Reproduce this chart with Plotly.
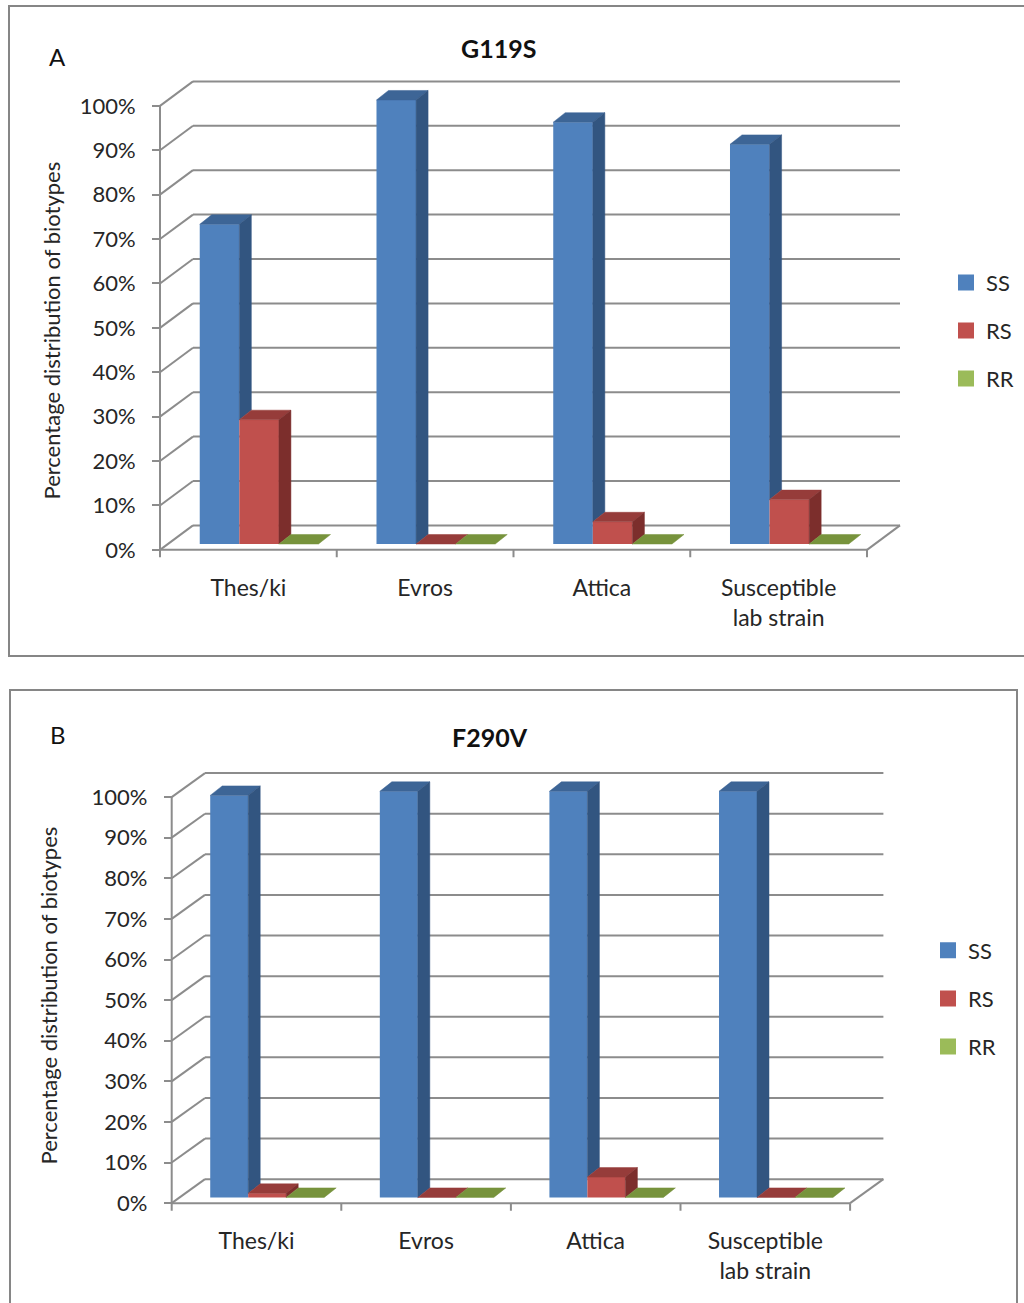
import plotly.graph_objects as go

# ---- data -------------------------------------------------------------
categories = ["Thes/ki", "Evros", "Attica", "Susceptible<br>lab strain"]
series = ["SS", "RS", "RR"]

g119s_ss = [72, 100, 95, 90]
g119s_rs = [28, 0, 5, 10]
g119s_rr = [0, 0, 0, 0]

f290v_ss = [99, 100, 100, 100]
f290v_rs = [1, 0, 5, 0]
f290v_rr = [0, 0, 0, 0]

y_ticks = [0, 10, 20, 30, 40, 50, 60, 70, 80, 90, 100]
y_tick_labels = [f"{v}%" for v in y_ticks]

# ---- styling ----------------------------------------------------------
W, H = 1024, 1303
FONT = "Lato"
TEXT = "#262626"
GRID = "#8c8c8c"
BORDER = "#868686"

front_color = {"SS": "#4F81BD", "RS": "#C0504D", "RR": "#9BBB59"}
top_color = {"SS": "#3D6596", "RS": "#963C3A", "RR": "#77933C"}
side_color = {"SS": "#325580", "RS": "#7C2E2C", "RR": "#5F7530"}

BAR_W = 0.224        # bar width in category units
BAR_START = 0.18     # first bar offset inside a category
ROW_DEPTH = 0.24     # bar row position between front edge and back wall
BAR_DX_PX, BAR_DY_PX = 12.0, 9.5   # oblique depth of one bar (pixels)

panels = [
    dict(label="A", title="G119S", values=[g119s_ss, g119s_rs, g119s_rr],
         origin=(160.0, 550.7), cat_px=176.75, unit_px=4.447, wall_px=(33.0, 24.5),
         box=(150, 908, 74, 562), xa="x", ya="y", legend="legend",
         frame=(9, 6, 1040, 657), title_xy=(498, 48), label_xy=(57, 57),
         ytitle_xy=(51, 331), legend_xy=(946, 262)),
    dict(label="B", title="F290V", values=[f290v_ss, f290v_rs, f290v_rr],
         origin=(171.7, 1205.0), cat_px=169.6, unit_px=4.067, wall_px=(33.3, 24.0),
         box=(160, 888, 766, 1216), xa="x2", ya="y2", legend="legend2",
         frame=(10, 691, 1017, 1320), title_xy=(490, 738), label_xy=(58, 736),
         ytitle_xy=(48, 997), legend_xy=(928, 931)),
]

fig = go.Figure()
shapes, annotations = [], []
layout = {}


def px_x(p):
    return p / W


def px_y(p):
    return 1 - p / H


for n, pn in enumerate(panels):
    ox, oy = pn["origin"]
    cpx, upx = pn["cat_px"], pn["unit_px"]
    dxd = pn["wall_px"][0] / cpx          # wall depth, x (category units)
    dyd = pn["wall_px"][1] / upx          # wall depth, y (percent units)
    bdx = BAR_DX_PX / cpx
    bdy = BAR_DY_PX / upx
    left, right, top, bottom = pn["box"]
    xa, ya = pn["xa"], pn["ya"]
    xname = "xaxis" if xa == "x" else "xaxis2"
    yname = "yaxis" if ya == "y" else "yaxis2"
    ncat = len(categories)

    layout[xname] = dict(
        domain=[px_x(left), px_x(right)],
        range=[(left - ox) / cpx, (right - ox) / cpx],
        anchor=ya, tickmode="array",
        tickvals=[i + 0.5 for i in range(ncat)], ticktext=categories,
        ticks="", showgrid=False, zeroline=False, showline=False,
        tickfont=dict(family=FONT, size=23, color=TEXT),
        ticklabelstandoff=11, fixedrange=True,
    )
    layout[yname] = dict(
        domain=[px_y(bottom), px_y(top)],
        range=[(oy - bottom) / upx, (oy - top) / upx],
        anchor="free", position=px_x(ox), tickmode="array",
        tickvals=y_ticks, ticktext=y_tick_labels,
        ticks="outside", ticklen=8, tickwidth=2, tickcolor=GRID,
        showgrid=False, zeroline=False, showline=False,
        tickfont=dict(family=FONT, size=22, color=TEXT),
        ticklabelstandoff=12, fixedrange=True,
    )

    def seg(x0, y0, x1, y1, w=2):
        shapes.append(dict(type="line", xref=xa, yref=ya, x0=x0, y0=y0, x1=x1, y1=y1,
                           line=dict(color=GRID, width=w), layer="below"))

    # back wall gridlines and left wall diagonals
    for t in y_ticks:
        seg(dxd, t + dyd, ncat + dxd, t + dyd)
        seg(0, t, dxd, t + dyd)
    # floor front edge, right edge, front value axis, category ticks
    seg(0, 0, ncat, 0)
    seg(ncat, 0, ncat + dxd, dyd)
    seg(0, 0, 0, y_ticks[-1])
    for i in range(ncat + 1):
        seg(i, 0, i, -7.5 / upx)

    base = ROW_DEPTH * dyd
    shift = ROW_DEPTH * dxd
    vals = pn["values"]
    for k, s in enumerate(series):
        v = vals[k]
        xl = [i + BAR_START + k * BAR_W + shift for i in range(ncat)]
        fig.add_trace(go.Bar(
            x=[x + BAR_W / 2 for x in xl], y=v, base=[base] * ncat, width=BAR_W,
            marker=dict(color=front_color[s], line=dict(width=0)),
            xaxis=xa, yaxis=ya, showlegend=False, hoverinfo="skip", name=s,
        ))
        # top faces
        tx, ty = [], []
        for i in range(ncat):
            y0 = base + v[i]
            x0 = xl[i]
            tx += [x0, x0 + BAR_W, x0 + BAR_W + bdx, x0 + bdx, x0, None]
            ty += [y0, y0, y0 + bdy, y0 + bdy, y0, None]
        fig.add_trace(go.Scatter(
            x=tx, y=ty, mode="lines", fill="toself", fillcolor=top_color[s],
            line=dict(color=top_color[s], width=0.5), xaxis=xa, yaxis=ya,
            showlegend=False, hoverinfo="skip",
        ))
        # side faces (the part not hidden by the neighbouring bar)
        sx, sy = [], []
        for i in range(ncat):
            nxt = vals[k + 1][i] if k + 1 < len(series) else 0
            lo = min(nxt, v[i])
            if v[i] <= lo:
                continue
            xr = xl[i] + BAR_W
            sx += [xr, xr + bdx, xr + bdx, xr, xr, None]
            sy += [base + lo, base + lo + bdy, base + v[i] + bdy, base + v[i], base + lo, None]
        if sx:
            fig.add_trace(go.Scatter(
                x=sx, y=sy, mode="lines", fill="toself", fillcolor=side_color[s],
                line=dict(color=side_color[s], width=0.5), xaxis=xa, yaxis=ya,
                showlegend=False, hoverinfo="skip",
            ))
        # legend entry
        fig.add_trace(go.Scatter(
            x=[None], y=[None], mode="markers", name=s,
            marker=dict(symbol="square", size=16, color=front_color[s]),
            xaxis=xa, yaxis=ya, legend=pn["legend"], legendgroup=f"{pn['label']}{s}",
            showlegend=True, hoverinfo="skip",
        ))

    lx, ly = pn["legend_xy"]
    layout[pn["legend"]] = dict(
        x=px_x(lx), y=px_y(ly), xanchor="left", yanchor="top",
        font=dict(family=FONT, size=22, color=TEXT), tracegroupgap=16.5,
        bgcolor="rgba(0,0,0,0)", itemsizing="trace",
    )

    # panel frame
    fx0, fy0, fx1, fy1 = pn["frame"]
    shapes.append(dict(type="rect", xref="paper", yref="paper",
                       x0=px_x(fx0), x1=px_x(fx1), y0=px_y(fy1), y1=px_y(fy0),
                       line=dict(color=BORDER, width=2), layer="below"))

    annotations.append(dict(text=f"<b>{pn['title']}</b>", x=px_x(pn["title_xy"][0]),
                            y=px_y(pn["title_xy"][1]), xref="paper", yref="paper",
                            showarrow=False, xanchor="center", yanchor="middle",
                            font=dict(family=FONT, size=25, color="#111111")))
    annotations.append(dict(text=pn["label"], x=px_x(pn["label_xy"][0]),
                            y=px_y(pn["label_xy"][1]), xref="paper", yref="paper",
                            showarrow=False, xanchor="center", yanchor="middle",
                            font=dict(family=FONT, size=24, color="#111111")))
    annotations.append(dict(text="Percentage distribution of biotypes",
                            x=px_x(pn["ytitle_xy"][0]), y=px_y(pn["ytitle_xy"][1]),
                            xref="paper", yref="paper", showarrow=False, textangle=-90,
                            xanchor="center", yanchor="middle",
                            font=dict(family=FONT, size=22, color=TEXT)))

fig.update_layout(
    width=W, height=H, margin=dict(l=0, r=0, t=0, b=0),
    paper_bgcolor="white", plot_bgcolor="rgba(0,0,0,0)",
    barmode="overlay", shapes=shapes, annotations=annotations,
    **layout,
)

fig.write_html("out.html")
